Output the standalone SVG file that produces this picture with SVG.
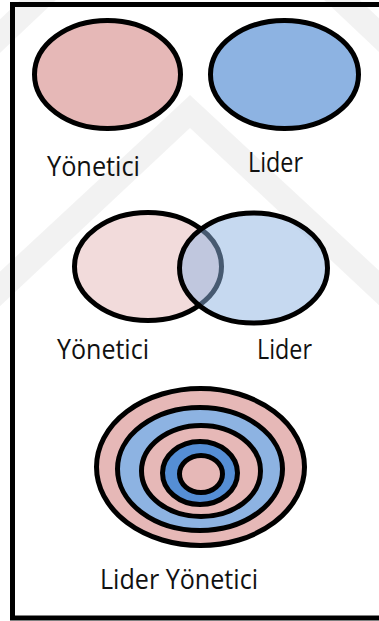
<svg xmlns="http://www.w3.org/2000/svg" width="379" height="621" viewBox="0 0 379 621">
  <style>
    .lbl { font-family: "Open Sans", "Liberation Sans", sans-serif; font-size: 27px; fill: #111; }
    .ring { stroke: #000; stroke-width: 5; }
    .pink { fill: #e6b8b7; }
    .blue { fill: #8db3e2; }
    .dblue { fill: #558ed5; }
  </style>

  <rect width="379" height="621" fill="#fff"/>

  <!-- faint chevron backdrop -->
  <g id="backdrop" fill="#000" fill-opacity="0.05">
    <polygon points="-20,290 190,95 400,290 400,325 190,128 -20,325"/>
    <polygon points="-20,38 190,-160 400,38 400,72 190,-127 -20,72"/>
  </g>

  <!-- frame -->
  <rect id="frame" x="12.5" y="4.5" width="380" height="613.5" fill="none" stroke="#000" stroke-width="5"/>

  <!-- row 1: separate roles -->
  <g id="yonetici-1">
    <ellipse class="ring pink" cx="107.5" cy="74.5" rx="73" ry="54"/>
    <text class="lbl" x="47" y="176" textLength="93" lengthAdjust="spacingAndGlyphs">Yönetici</text>
  </g>
  <g id="lider-1">
    <ellipse class="ring blue" cx="284.5" cy="74.5" rx="74" ry="54"/>
    <text class="lbl" x="248" y="172" textLength="55" lengthAdjust="spacingAndGlyphs">Lider</text>
  </g>

  <!-- row 2: overlapping roles -->
  <g id="yonetici-2">
    <ellipse class="ring" cx="148" cy="266.5" rx="73.5" ry="54" fill="#e6b8b7" fill-opacity="0.5"/>
    <text class="lbl" x="57" y="359" textLength="92" lengthAdjust="spacingAndGlyphs">Yönetici</text>
  </g>
  <g id="lider-2">
    <ellipse cx="253.5" cy="268" rx="74" ry="55" fill="#8db3e2" fill-opacity="0.5"/>
    <ellipse cx="253.5" cy="268" rx="74" ry="55" fill="none" stroke="#000" stroke-width="5"/>
    <text class="lbl" x="257" y="359" textLength="55" lengthAdjust="spacingAndGlyphs">Lider</text>
  </g>

  <!-- row 3: nested roles -->
  <g id="lider-yonetici">
    <ellipse class="ring pink" cx="200.5" cy="467" rx="104" ry="78.5"/>
    <ellipse class="ring blue" cx="200" cy="469" rx="82.5" ry="61.5"/>
    <ellipse class="ring pink" cx="201" cy="471" rx="59.5" ry="45.5"/>
    <ellipse class="ring dblue" cx="200" cy="473" rx="37.5" ry="31.5"/>
    <ellipse class="ring pink" cx="201" cy="474" rx="21.5" ry="18.5"/>
    <text class="lbl" x="100" y="589" textLength="158" lengthAdjust="spacingAndGlyphs">Lider Yönetici</text>
  </g>
</svg>
